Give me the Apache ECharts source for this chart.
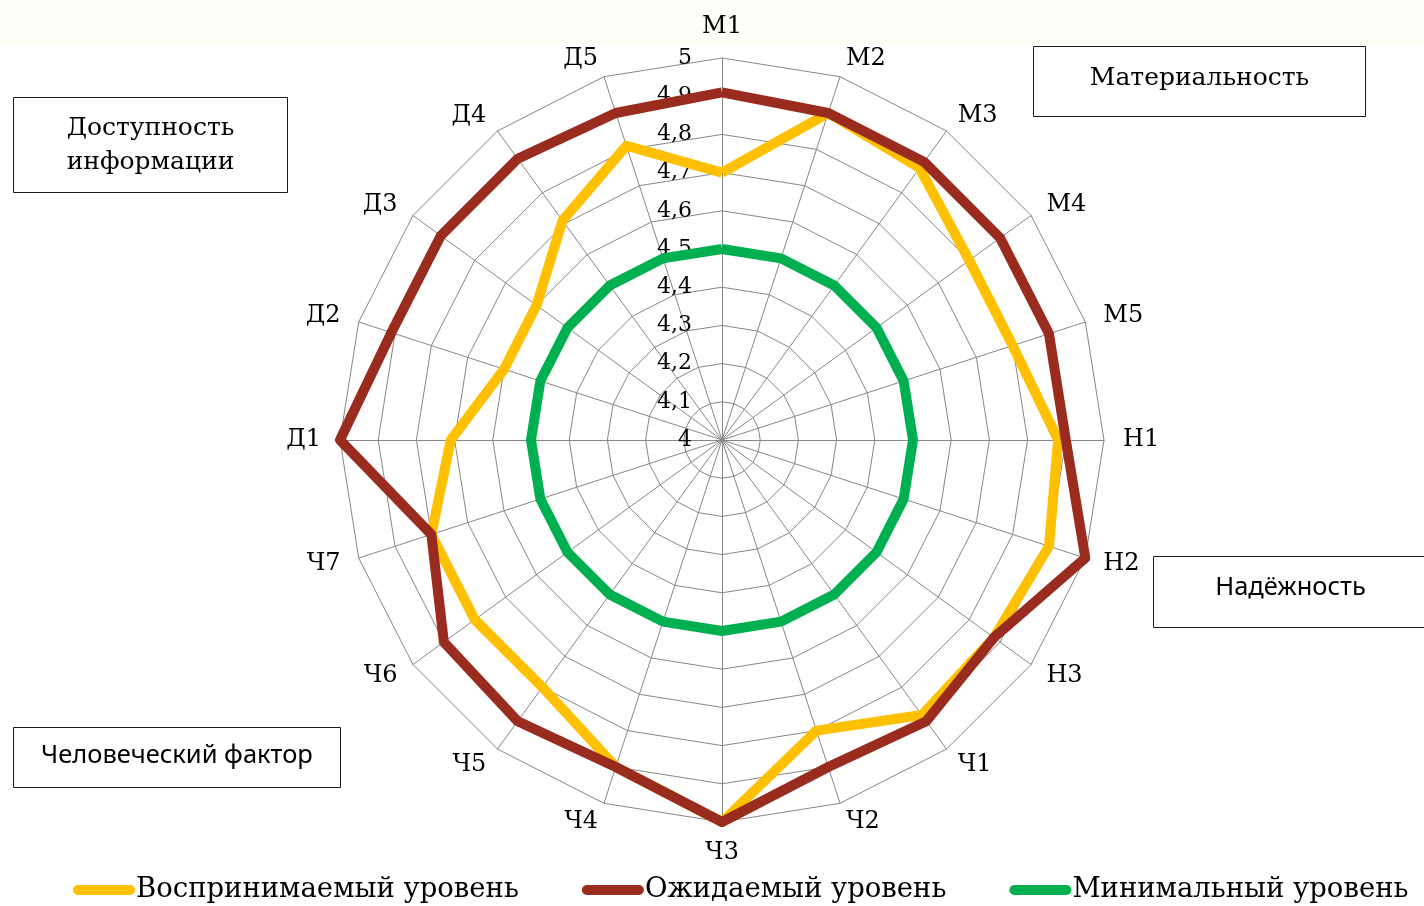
<!DOCTYPE html>
<html>
<head>
<meta charset="utf-8">
<script src="https://cdn.jsdelivr.net/npm/echarts@6/dist/echarts.min.js"></script>
<style>
  html, body { margin: 0; padding: 0; background: #ffffff; }
  #chart { width: 1424px; height: 906px; }
</style>
</head>
<body>
<div id="chart"></div>
<script>
// Service quality criteria, listed clockwise from the top
const categories = ['М1', 'М2', 'М3', 'М4', 'М5', 'Н1', 'Н2', 'Н3',
  'Ч1', 'Ч2', 'Ч3', 'Ч4', 'Ч5', 'Ч6', 'Ч7', 'Д1', 'Д2', 'Д3', 'Д4', 'Д5'];

const perceived = [4.70, 4.90, 4.88, 4.80, 4.80, 4.88, 4.90, 4.88,
  4.89, 4.80, 5.00, 4.90, 4.80, 4.80, 4.80, 4.71, 4.60, 4.60, 4.71, 4.81];

const expected = [4.91, 4.90, 4.90, 4.90, 4.90, 4.90, 5.00, 4.88,
  4.91, 4.90, 5.00, 4.90, 4.91, 4.90, 4.80, 5.00, 4.91, 4.91, 4.91, 4.90];

const minimum = [4.5, 4.5, 4.5, 4.5, 4.5, 4.5, 4.5, 4.5,
  4.5, 4.5, 4.5, 4.5, 4.5, 4.5, 4.5, 4.5, 4.5, 4.5, 4.5, 4.5];

const tickLabels = ['4', '4,1', '4,2', '4,3', '4,4', '4,5', '4,6', '4,7', '4,8', '4,9', '5'];

const seriesNames = ['Воспринимаемый уровень', 'Ожидаемый уровень', 'Минимальный уровень'];
const seriesColors = ['#ffc000', '#9a2c1f', '#00b050'];

const groupMaterial = 'Материальность';
const groupReliability = 'Надёжность';
const groupHuman = 'Человеческий фактор';
const groupAccess = 'Доступность\nинформации';

const SERIF = '"DejaVu Serif", "Liberation Serif", serif';
const SANS = '"Noto Sans", "Open Sans", sans-serif';
const GRID = '#868686';

// Radar lays indicators out counter-clockwise, so keep the first one on top
// and reverse the rest to get a clockwise reading order.
const order = [0].concat(categories.map((_, i) => i).slice(1).reverse());
const reorder = arr => order.map(i => arr[i]);

const indicator = order.map((i, k) => {
  const ind = { name: categories[i], min: 4, max: 5 };
  if (k === 0) ind.axisLabel = { show: true };
  return ind;
});

const legendIcon = 'path://M5,0 H57 A5,5 0 0 1 57,10 H5 A5,5 0 0 1 5,0 Z';

function boxText(x, y, w, h, text, font, size, lineHeight, dy) {
  return [
    {
      type: 'rect',
      shape: { x: x, y: y, width: w, height: h },
      style: { fill: '#ffffff', stroke: '#1a1a1a', lineWidth: 1 },
      z: 10
    },
    {
      type: 'text',
      x: x + w / 2,
      y: y + h / 2 + (dy || 0),
      style: {
        text: text, fill: '#000000', font: size + 'px ' + font,
        align: 'center', verticalAlign: 'middle', lineHeight: lineHeight || size
      },
      z: 11
    }
  ];
}

const chart = echarts.init(document.getElementById('chart'), null, { renderer: 'canvas' });

chart.setOption({
  backgroundColor: '#ffffff',
  animation: false,
  graphic: [
    {
      type: 'rect',
      shape: { x: 0, y: 0, width: 1424, height: 45 },
      style: { fill: '#fefef8' },
      z: -10,
      silent: true
    }
  ]
    .concat(boxText(1033.5, 46.5, 332, 70, groupMaterial, SERIF, 25, null, -3))
    .concat(boxText(13.5, 97.5, 274, 95, groupAccess, SERIF, 25, 34))
    .concat(boxText(1153.5, 556.5, 274, 71, groupReliability, SANS, 25.5, null, -4))
    .concat(boxText(13.5, 727.5, 327, 60, groupHuman, SANS, 25.5, null, -2)),
  legend: {
    data: seriesNames,
    left: 68,
    top: 871,
    itemWidth: 62,
    itemHeight: 10,
    itemGap: 63,
    icon: legendIcon,
    textStyle: { fontFamily: SERIF, fontSize: 27.5, color: '#000000', padding: [0, 0, 0, -4] }
  },
  radar: {
    center: [722, 440],
    radius: 382,
    startAngle: 90,
    shape: 'polygon',
    splitNumber: 10,
    indicator: indicator,
    axisNameGap: 19,
    axisName: { color: '#000000', fontFamily: SERIF, fontSize: 24 },
    axisLine: { show: true, lineStyle: { color: GRID, width: 1 } },
    splitLine: { show: true, lineStyle: { color: GRID, width: 1 } },
    splitArea: { show: false },
    axisTick: { show: false },
    axisLabel: {
      show: false,
      color: '#000000',
      fontFamily: SERIF,
      fontSize: 22,
      margin: 30,
      formatter: v => tickLabels[Math.round((v - 4) * 10)]
    }
  },
  series: [
    {
      type: 'radar',
      symbol: 'none',
      silent: true,
      data: [
        { name: seriesNames[0], value: reorder(perceived),
          lineStyle: { color: seriesColors[0], width: 10 }, itemStyle: { color: seriesColors[0] } },
        { name: seriesNames[1], value: reorder(expected),
          lineStyle: { color: seriesColors[1], width: 10 }, itemStyle: { color: seriesColors[1] } },
        { name: seriesNames[2], value: reorder(minimum),
          lineStyle: { color: seriesColors[2], width: 10 }, itemStyle: { color: seriesColors[2] } }
      ]
    }
  ]
});
</script>
</body>
</html>
